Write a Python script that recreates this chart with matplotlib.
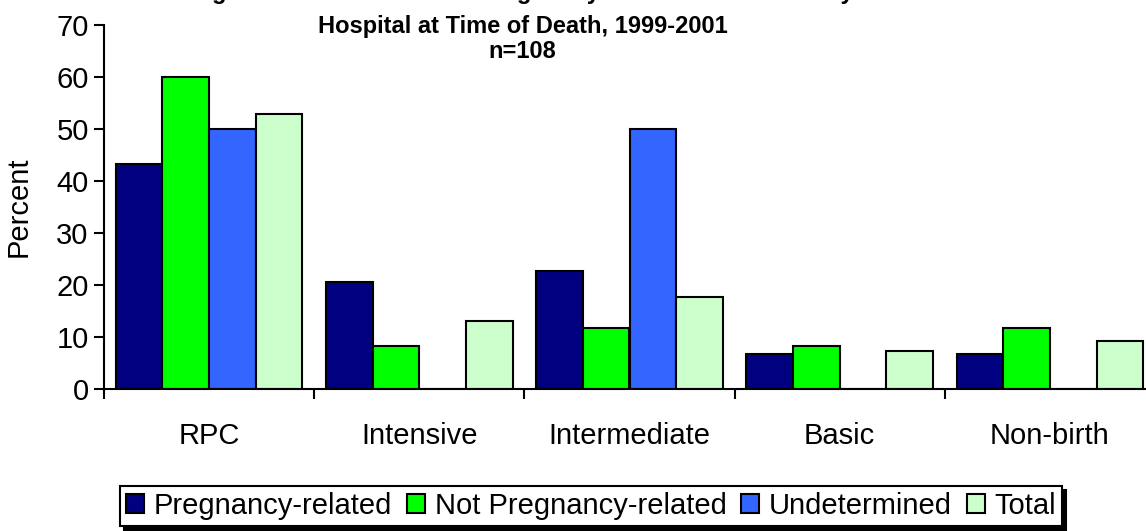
import numpy as np
import matplotlib as mpl
mpl.use('Agg')
import matplotlib.pyplot as plt

mpl.rcParams['font.family'] = ['Liberation Sans', 'DejaVu Sans']

categories = ['RPC', 'Intensive', 'Intermediate', 'Basic', 'Non-birth']
series_names = ['Pregnancy-related', 'Not Pregnancy-related', 'Undetermined', 'Total']
preg = [43.2, 20.5, 22.7, 6.8, 6.8]
not_preg = [60.0, 8.3, 11.7, 8.3, 11.7]
undet = [50.0, 0, 50.0, 0, 0]
total = [52.8, 13.0, 17.6, 7.4, 9.3]
yticks = [0, 10, 20, 30, 40, 50, 60, 70]

colors = ['#000080', '#00ff00', '#3366ff', '#ccffcc']

fig = plt.figure(figsize=(11.46, 5.31), dpi=100)
ax = fig.add_axes([104/1146., 1-389/531., 1051/1146., 364/531.])

x = np.arange(len(categories)) + 0.5
w = 0.222
for k, (vals, name) in enumerate(zip([preg, not_preg, undet, total], series_names)):
    ax.bar(x + (k-1.5)*w, vals, w, color=colors[k], edgecolor='black', lw=1.5, label=name)

ax.set_xlim(0, 5)
ax.set_ylim(0, 70)
ax.set_yticks(yticks)
ax.set_xticks(np.arange(6))
ax.set_xticklabels([])
ax.set_xticks(x, minor=True)
ax.set_xticklabels(categories, minor=True)
ax.tick_params(axis='x', which='major', length=7, width=1.5, direction='out')
ax.tick_params(axis='x', which='minor', length=0, pad=24, labelsize=21)
ax.tick_params(axis='y', length=7, width=1.5, labelsize=21, pad=4)
for s in ['top', 'right']:
    ax.spines[s].set_visible(False)
for s in ['left', 'bottom']:
    ax.spines[s].set_linewidth(1.5)
ax.set_ylabel('Percent', fontsize=21, labelpad=17)

# first title line sits mostly above the top edge, as in the reference
fig.text(0.456, 1 + 1/531., 'Figure 12: Distribution of Pregnancy-Associated Deaths by',
         ha='center', va='baseline', fontsize=17, fontweight='bold')
fig.text(0.456, 1 - 27/531., 'Hospital at Time of Death, 1999-2001',
         ha='center', va='center', fontsize=17, fontweight='bold')
fig.text(0.456, 1 - 51/531., 'n=108',
         ha='center', va='center', fontsize=17, fontweight='bold')

leg = fig.legend(loc='center', bbox_to_anchor=(591/1146., 1 - 506/531.), ncol=4,
                 fontsize=21, frameon=True, fancybox=False,
                 shadow={'color': 'black', 'alpha': 1, 'ox': 3, 'oy': -3},
                 handlelength=0.62, handleheight=0.62, handletextpad=0.34, columnspacing=0.5,
                 borderpad=0.2, borderaxespad=0)
leg.get_frame().set_edgecolor('black')
leg.get_frame().set_linewidth(1.5)

fig.savefig('out.png', dpi=100)
